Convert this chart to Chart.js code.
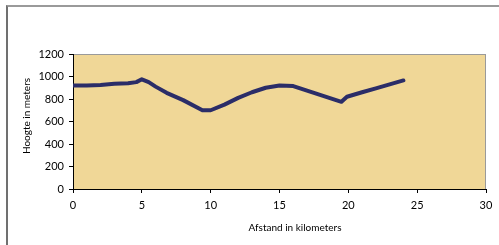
<!DOCTYPE html>
<html>
<head>
<meta charset="utf-8">
<script src="https://cdn.jsdelivr.net/npm/chart.js@4"></script>
<style>
    html, body { margin: 0; padding: 0; background: #fff; overflow: hidden; }
    #frame {
        position: absolute; left: 6px; top: 5px; width: 600px; height: 400px;
        border-left: 2px solid #707070; border-top: 2px solid #9a9a9a;
    }
    #chart { position: absolute; left: 0; top: 0; }
</style>
</head>
<body>
<div id="frame"></div>
<canvas id="chart" width="499" height="245"></canvas>
<script>
// distance (km) and height (m)
const distances = [0, 1, 2, 3, 4, 4.6, 5, 5.5, 6, 6.8, 8, 9.4, 10, 11, 12, 13, 14, 15, 16, 17, 18, 19, 19.5, 19.9, 21, 22, 23, 24];
const heights = [920, 920, 925, 935, 940, 950, 975, 950, 910, 855, 790, 700, 700, 750, 810, 860, 900, 920, 915, 875, 835, 795, 775, 820, 860, 895, 930, 965];
const xTitle = 'Afstand in kilometers';
const yTitle = 'Hoogte in meters';

const fontFamily = 'Lato, "Open Sans", sans-serif';

// plot background, border and the two axis titles
const decor = {
    id: 'decor',
    beforeDraw(chart) {
        const { ctx, chartArea: a } = chart;
        ctx.save();
        ctx.fillStyle = '#f0d797';
        ctx.fillRect(a.left, a.top, a.right - a.left, a.bottom - a.top);
        ctx.strokeStyle = '#9a9a9a';
        ctx.lineWidth = 1;
        ctx.strokeRect(a.left + 0.5, a.top + 0.5, a.right - a.left - 1, a.bottom - a.top);
        ctx.restore();
    },
    afterDraw(chart) {
        const { ctx } = chart;
        ctx.save();
        ctx.fillStyle = '#000';
        ctx.font = '10px ' + fontFamily;
        ctx.textAlign = 'center';
        ctx.textBaseline = 'middle';
        ctx.fillText(xTitle, 295, 228);
        ctx.translate(27, 116);
        ctx.rotate(-Math.PI / 2);
        ctx.fillText(yTitle, 0, 0);
        ctx.restore();
    }
};

new Chart(document.getElementById('chart'), {
    type: 'scatter',
    data: {
        datasets: [{
            data: distances.map((d, i) => ({ x: d, y: heights[i] })),
            showLine: true,
            borderColor: '#2b2d68',
            borderWidth: 4,
            borderJoinStyle: 'round',
            borderCapStyle: 'round',
            pointRadius: 0,
            tension: 0
        }]
    },
    options: {
        responsive: false,
        animation: false,
        layout: { padding: { left: 0, top: 54, right: 13, bottom: 0 } },
        plugins: { legend: { display: false }, tooltip: { enabled: false } },
        scales: {
            x: {
                type: 'linear', min: 0, max: 30,
                afterFit: s => { s.height = 56; },
                ticks: { stepSize: 5, color: '#000', padding: 6, font: { family: fontFamily, size: 11 }, callback: v => String(v) },
                grid: { drawOnChartArea: false, tickLength: 4, color: '#000' },
                border: { color: '#000' }
            },
            y: {
                min: 0, max: 1200,
                afterFit: s => { s.width = 73; },
                ticks: { stepSize: 200, color: '#000', padding: 5, font: { family: fontFamily, size: 11 }, callback: v => String(v) },
                grid: { drawOnChartArea: false, tickLength: 4, color: '#000' },
                border: { color: '#000' }
            }
        }
    },
    plugins: [decor]
});
</script>
</body>
</html>
